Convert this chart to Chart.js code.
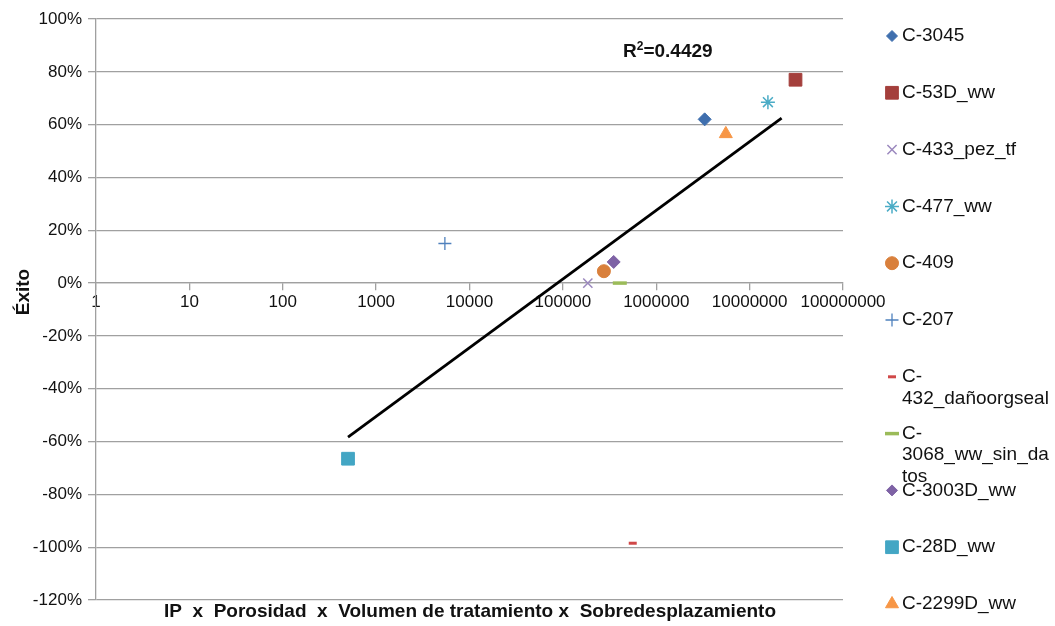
<!DOCTYPE html>
<html>
<head>
<meta charset="utf-8">
<script src="https://cdn.jsdelivr.net/npm/chart.js@4.4.1/dist/chart.umd.min.js"></script>
<style>
  body { margin: 0; background: #fff; }
  #wrap { width: 1055px; height: 626px; position: relative; }
</style>
</head>
<body>
<div id="wrap"><canvas id="scatter-chart"></canvas></div>
<script>
// Data
const seriesNames = ["C-3045", "C-53D_ww", "C-433_pez_tf", "C-477_ww", "C-409", "C-207",
  "C-432_dañoorgseal", "C-3068_ww_sin_datos", "C-3003D_ww", "C-28D_ww", "C-2299D_ww"];
const xValues = [3.3e6, 3.1e7, 1.85e5, 1.57e7, 2.75e5, 5450, 5.6e5, 4.07e5, 3.5e5, 500, 5.56e6];
const yValues = [62, 77, 0, 68.5, 4.5, 15, -98.5, 0, 8, -66.5, 56.5];
// legend text as Excel wrapped it
const legendLines = [["C-3045"], ["C-53D_ww"], ["C-433_pez_tf"], ["C-477_ww"], ["C-409"], ["C-207"],
  ["C-", "432_dañoorgseal"], ["C-", "3068_ww_sin_da", "tos"], ["C-3003D_ww"], ["C-28D_ww"], ["C-2299D_ww"]];
// logarithmic trendline, end points
const trendX = [500, 2.2e7];
const trendY = [-58.3, 62.5];
const r2Text = "0.4429";
const xTicks = [1, 10, 100, 1000, 10000, 100000, 1000000, 10000000, 100000000];

// marker styles
const colors = ["#3F6FAE", "#A43F3C", "#9B88BE", "#4BACC6", "#D9803C", "#4F81BD",
  "#D04848", "#9BBB59", "#7E62A5", "#43A6C4", "#F79646"];
const styles = ["rectRot", "rect", "crossRot", "star", "circle", "cross",
  "line", "line", "rectRot", "rect", "triangle"];
const radii = [6.5, 9, 6.5, 7, 6.5, 6.5, 4, 7, 6.5, 9, 7.5];
const borders = [1, 1, 1.5, 1.5, 1, 1.3, 3, 3.5, 1, 1, 1];

const FONT = '"Liberation Sans", Arial, sans-serif';

const datasets = seriesNames.map((name, i) => ({
  label: name,
  data: [{ x: xValues[i], y: yValues[i] }],
  pointStyle: styles[i],
  pointRadius: radii[i],
  pointHoverRadius: radii[i],
  pointBackgroundColor: colors[i],
  pointBorderColor: colors[i],
  pointBorderWidth: borders[i],
  order: 1
}));
datasets.push({
  label: "trend",
  data: trendX.map((x, i) => ({ x: x, y: trendY[i] })),
  showLine: true,
  borderColor: "#000",
  borderWidth: 2.8,
  pointRadius: 0,
  order: 0
});

// texts and legend drawn by hand to match the Excel layout
const extraText = {
  id: "extraText",
  afterDraw(chart) {
    const ctx = chart.ctx;
    ctx.save();
    ctx.fillStyle = "#111";
    ctx.textBaseline = "middle";

    // legend on the right
    ctx.font = "19px " + FONT;
    legendLines.forEach((lines, i) => {
      const y = 36 + i * 56.8;
      ctx.fillStyle = colors[i];
      ctx.strokeStyle = colors[i];
      ctx.lineWidth = borders[i];
      if (Chart.helpers && Chart.helpers.drawPoint) {
        Chart.helpers.drawPoint(ctx, {
          pointStyle: styles[i],
          radius: styles[i] === "rectRot" ? 5.5 : radii[i],
          borderWidth: borders[i],
          rotation: 0
        }, 892, y);
      }
      ctx.fillStyle = "#111";
      ctx.textAlign = "left";
      lines.forEach((t, k) => ctx.fillText(t, 902, y + k * 21.5));
    });

    // R² label
    ctx.font = "bold 19px " + FONT;
    let x = 623, y = 52;
    ctx.fillText("R", x, y);
    x += ctx.measureText("R").width;
    ctx.font = "bold 12px " + FONT;
    ctx.fillText("2", x, y - 5);
    x += ctx.measureText("2").width;
    ctx.font = "bold 19px " + FONT;
    ctx.fillText("=" + r2Text, x, y);

    // x axis title
    ctx.textAlign = "center";
    ctx.fillText("IP  x  Porosidad  x  Volumen de tratamiento x  Sobredesplazamiento", 470, 612);

    // y axis title
    ctx.translate(24, 292);
    ctx.rotate(-Math.PI / 2);
    ctx.fillText("Éxito", 0, 0);
    ctx.restore();
  }
};

const canvas = document.getElementById("scatter-chart");
new Chart(canvas, {
  type: "scatter",
  data: { datasets: datasets },
  plugins: [extraText],
  options: {
    responsive: true,
    maintainAspectRatio: false,
    animation: false,
    layout: { padding: { left: 0, right: 212, top: 19, bottom: 26 } },
    plugins: {
      legend: { display: false },
      tooltip: { enabled: false }
    },
    scales: {
      x: {
        type: "logarithmic",
        min: 1,
        max: 100000000,
        position: { y: 0 },
        afterBuildTicks: (axis) => { axis.ticks = xTicks.map(v => ({ value: v })); },
        ticks: {
          autoSkip: false,
          maxRotation: 0,
          padding: 2,
          color: "#111",
          font: { family: FONT, size: 17 },
          callback: (v) => String(v)
        },
        grid: { drawOnChartArea: false, tickLength: 7, color: "#a0a0a0", lineWidth: 1.3 },
        border: { color: "#a0a0a0", width: 1.3 }
      },
      y: {
        min: -120,
        max: 100,
        afterFit: (axis) => { axis.width = 96; },
        ticks: {
          stepSize: 20,
          padding: 6,
          color: "#111",
          font: { family: FONT, size: 17 },
          callback: (v) => v + "%"
        },
        grid: { color: "#a0a0a0", lineWidth: 1.3, tickLength: 8 },
        border: { color: "#a0a0a0", width: 1.3 }
      }
    }
  }
});
</script>
</body>
</html>
